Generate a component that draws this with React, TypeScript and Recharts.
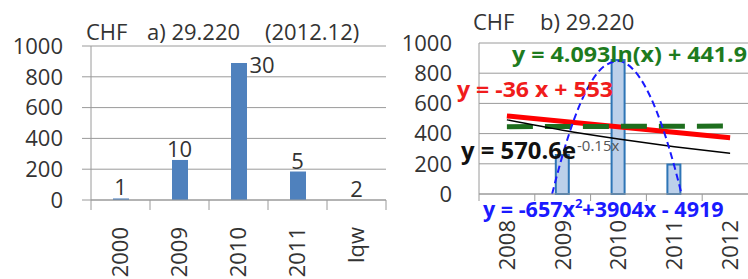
import { ComposedChart, Bar, Line, XAxis, YAxis, CartesianGrid, LabelList } from 'recharts';

// panel a) - bars per category, with count labels above
const catsA = ['2000', '2009', '2010', '2011', 'lqw'];
const valuesA = [10, 260, 890, 185, 0];
const countsA = [1, 10, 30, 5, 2];

// panel b) - bars per year and trend lines (x = 1..5 is 2008..2012)
const yearsB = ['2008', '2009', '2010', '2011', '2012'];
const valuesB = [null, 258, 887, 195, null];
const linearX = [1, 5];
const linearY = [517, 373];
const expX = [1, 2, 3, 4, 5];
const expY = [491, 422, 364, 313, 269];
const logX = [1, 2, 3, 4, 5];
const logY = [446, 447, 448, 449, 450];
const polyX = [1.81, 2, 2.25, 2.5, 2.75, 3, 3.25, 3.5, 3.75, 4, 4.13];
const polyY = [0, 260, 540, 735, 848, 880, 830, 697, 482, 185, 0];

const yTicks = [0, 200, 400, 600, 800, 1000];
const edgeTicks = [0.5, 1, 1.5, 2, 2.5, 3, 3.5, 4, 4.5, 5, 5.5];

const FONT = '"Open Sans", sans-serif';
const GRID = '#9a9a9a';
const INK = '#333';

const rowsA = catsA.map((c, i) => ({ pos: i + 1, value: valuesA[i], count: countsA[i] }));
const rowsB = yearsB.map((c, i) => ({ pos: i + 1, value: valuesB[i] }));
const pts = (xs: number[], ys: number[]) => xs.map((x, i) => ({ pos: x, y: ys[i] }));

// half steps are category edges (tick mark), whole steps get the rotated label
function EdgeTick(props: any) {
  const { x, y, payload, labels, tickLen, gap } = props;
  const v = payload.value;
  if (!Number.isInteger(v)) {
    return <line x1={x} y1={y} x2={x} y2={y + tickLen} stroke={GRID} />;
  }
  return (
    <text
      transform={`translate(${x},${y + gap}) rotate(-90)`}
      textAnchor="end"
      dy="0.36em"
      fontSize={22}
      fontFamily={FONT}
      fill={INK}
    >
      {labels[v - 1]}
    </text>
  );
}

function CountLabel(props: any) {
  const { x, y, value } = props;
  // the tallest bar gets its label beside the top
  if (y < 80) {
    return (
      <text x={x + 11} y={y + 10} fontSize={22} fontFamily={FONT} fill={INK}>
        {value}
      </text>
    );
  }
  return (
    <text x={x} y={y - 3} textAnchor="middle" fontSize={22} fontFamily={FONT} fill={INK}>
      {value}
    </text>
  );
}

export default function App() {
  const tickStyle = { fontSize: 22, fontFamily: FONT, fill: INK };
  return (
    <div style={{ position: 'absolute', left: 0, top: 0, width: 748, height: 279, overflow: 'hidden', background: '#fff' }}>
      <div style={{ position: 'absolute', left: 0, top: 0 }}>
        <ComposedChart width={388} height={279} data={rowsA} margin={{ top: 46, right: 2, left: 0, bottom: 0 }}>
          <CartesianGrid vertical={false} stroke={GRID} />
          <XAxis
            type="number"
            dataKey="pos"
            domain={[0.5, 5.5]}
            ticks={edgeTicks}
            interval={0}
            height={79}
            tickSize={0}
            tickMargin={0}
            tickLine={false}
            axisLine={{ stroke: GRID }}
            tick={<EdgeTick labels={catsA} tickLen={10} gap={27} />}
          />
          <YAxis
            domain={[0, 1000]}
            ticks={yTicks}
            interval={0}
            width={91}
            tickSize={9}
            tickMargin={19}
            tickLine={{ stroke: GRID }}
            axisLine={{ stroke: GRID }}
            tick={tickStyle}
          />
          <Bar dataKey="value" barSize={16} fill="#4f81bd" isAnimationActive={false} />
          <Line dataKey="value" stroke="none" dot={false} activeDot={false} isAnimationActive={false}>
            <LabelList dataKey="count" content={<CountLabel />} />
          </Line>
        </ComposedChart>
      </div>
      <div style={{ position: 'absolute', left: 390, top: 0 }}>
        <ComposedChart width={368} height={279} data={rowsB} margin={{ top: 43, right: 0, left: 0, bottom: 0 }}>
          <CartesianGrid vertical={false} stroke={GRID} />
          <XAxis
            type="number"
            dataKey="pos"
            domain={[0.5, 5.5]}
            ticks={edgeTicks}
            interval={0}
            height={85}
            tickSize={0}
            tickMargin={0}
            tickLine={false}
            axisLine={{ stroke: GRID }}
            tick={<EdgeTick labels={yearsB} tickLen={7} gap={26} />}
          />
          {/* trend lines on their own hidden axis so their fine x steps don't shrink the bars */}
          <XAxis xAxisId="trend" type="number" dataKey="pos" domain={[0.5, 5.5]} hide />
          <YAxis
            domain={[0, 1000]}
            ticks={yTicks}
            interval={0}
            width={89}
            tickSize={0}
            tickMargin={27}
            tickLine={false}
            axisLine={{ stroke: GRID }}
            tick={tickStyle}
          />
          <Bar dataKey="value" barSize={13} fill="#bcd0ea" stroke="#2e75b6" strokeWidth={2} isAnimationActive={false} />
          <Line xAxisId="trend" data={pts(linearX, linearY)} dataKey="y" stroke="#ff0000" strokeWidth={5} dot={false} isAnimationActive={false} />
          <Line xAxisId="trend" data={pts(logX, logY)} dataKey="y" stroke="#1e6e1e" strokeWidth={5} strokeDasharray="26 12" dot={false} isAnimationActive={false} />
          <Line xAxisId="trend" data={pts(expX, expY)} type="monotone" dataKey="y" stroke="#000" strokeWidth={1.5} dot={false} isAnimationActive={false} />
          <Line xAxisId="trend" data={pts(polyX, polyY)} type="monotone" dataKey="y" stroke="#1a1aff" strokeWidth={2} strokeDasharray="7 4" dot={false} isAnimationActive={false} />
        </ComposedChart>
      </div>
      <svg width={748} height={279} style={{ position: 'absolute', left: 0, top: 0, pointerEvents: 'none' }} fontFamily={FONT}>
        <g fontSize={22} fill={INK}>
          <text x={86} y={40}>CHF</text>
          <text x={147} y={40}>a) 29.220</text>
          <text x={265} y={40}>(2012.12)</text>
          <text x={473} y={30}>CHF</text>
          <text x={540} y={30}>b) 29.220</text>
        </g>
        <g fontWeight="bold" fontSize={21}>
          <text x={512} y={62} fill="#1e7b1e" textLength={235} lengthAdjust="spacingAndGlyphs">y = 4.093ln(x) + 441.9</text>
          <text x={457} y={97} fill="#f01c1c" textLength={156} lengthAdjust="spacingAndGlyphs">y = -36 x + 553</text>
          <text x={461} y={159} fill="#111" fontSize={24} textLength={115} lengthAdjust="spacingAndGlyphs">y = 570.6e</text>
          <text x={577} y={151} fill="#555" fontSize={15} fontWeight="normal">-0.15x</text>
          <text x={483} y={217} fill="#1a1aff" fontSize={21.5}>
            y = -657x<tspan fontSize={13} dy={-9}>2</tspan><tspan dy={9}>+3904x - 4919</tspan>
          </text>
        </g>
      </svg>
    </div>
  );
}
